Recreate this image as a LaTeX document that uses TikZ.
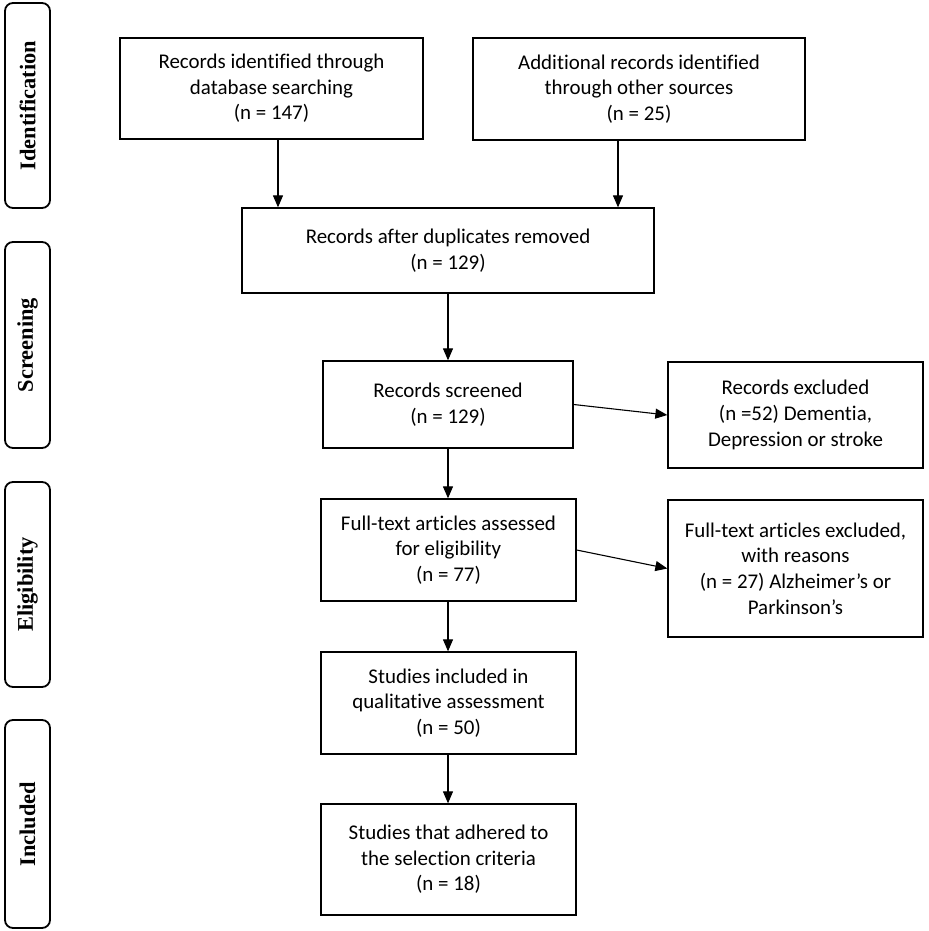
\documentclass[tikz,border=0pt]{standalone}
\usepackage{fontspec}
\setmainfont{Carlito}[Ligatures=NoCommon]
\newfontfamily\phasefont{Liberation Serif}
\usetikzlibrary{arrows.meta,positioning,calc}

\begin{document}
\begin{tikzpicture}[x=1bp, y=-1bp,
    box/.style={draw, line width=1.3bp, align=center, inner sep=0pt,
                font=\fontsize{21}{25.7}\selectfont},
    phase/.style={draw, line width=1.8bp, rounded corners=8bp, rotate=90,
                  inner sep=0pt, minimum height=45bp,
                  font=\phasefont\bfseries\fontsize{22.5}{26}\selectfont},
    arr/.style={-{Triangle[length=12bp,width=10bp]}, line width=1.1bp}]
    \useasboundingbox (0,0) rectangle (929,931);
    % Phase labels on the left
    \node[phase, minimum width=205bp] (pid) at (27.5,105.5) {Identification};
    \node[phase, minimum width=206bp] (pscr) at (27.5,345) {Screening};
    \node[phase, minimum width=205bp] (pelg) at (27.5,584.5) {Eligibility};
    \node[phase, minimum width=208bp] (pinc) at (27.5,824) {Included};
    % Identification
    \node[box, minimum width=303bp, minimum height=101bp] (dbrec) at (271.5,88.5)
        {Records identified through\\database searching\\(n = 147)};
    \node[box, minimum width=332bp, minimum height=102bp] (otherrec) at (639,89)
        {Additional records identified\\through other sources\\(n = 25)};
    \node[box, minimum width=412bp, minimum height=85bp] (dedup) at (448,250.5)
        {Records after duplicates removed\\(n = 129)};
    % Screening
    \node[box, minimum width=250bp, minimum height=87bp] (screened) at (448,404.5)
        {Records screened\\(n = 129)};
    \node[box, minimum width=255bp, minimum height=106bp] (excl) at (795.5,415)
        {Records excluded\\(n =52) Dementia,\\Depression or stroke};
    % Eligibility
    \node[box, minimum width=255bp, minimum height=102bp] (fulltext) at (448.5,550)
        {Full-text articles assessed\\for eligibility\\(n = 77)};
    \node[box, minimum width=255bp, minimum height=137bp] (ftexcl) at (795.5,568.5)
        {Full-text articles excluded,\\with reasons\\(n = 27) Alzheimer's or\\Parkinson's};
    % Included
    \node[box, minimum width=255bp, minimum height=102bp] (qual) at (448.5,703)
        {Studies included in\\qualitative assessment\\(n = 50)};
    \node[box, minimum width=255bp, minimum height=111bp] (final) at (448.5,859.5)
        {Studies that adhered to\\the selection criteria\\(n = 18)};
    % Arrows
    \draw[arr] ([xshift=6.5bp]dbrec.south) -- ([xshift=6.5bp]dbrec.south |- dedup.north);
    \draw[arr] ([xshift=-21bp]otherrec.south) -- ([xshift=-21bp]otherrec.south |- dedup.north);
    \draw[arr] (dedup.south) -- (dedup.south |- screened.north);
    \draw[arr] (screened.east) -- (excl.west);
    \draw[arr] (screened.south) -- (screened.south |- fulltext.north);
    \draw[arr] (fulltext.east) -- (ftexcl.west);
    \draw[arr] (screened.south |- fulltext.south) -- (screened.south |- qual.north);
    \draw[arr] (screened.south |- qual.south) -- (screened.south |- final.north);
\end{tikzpicture}
\end{document}
